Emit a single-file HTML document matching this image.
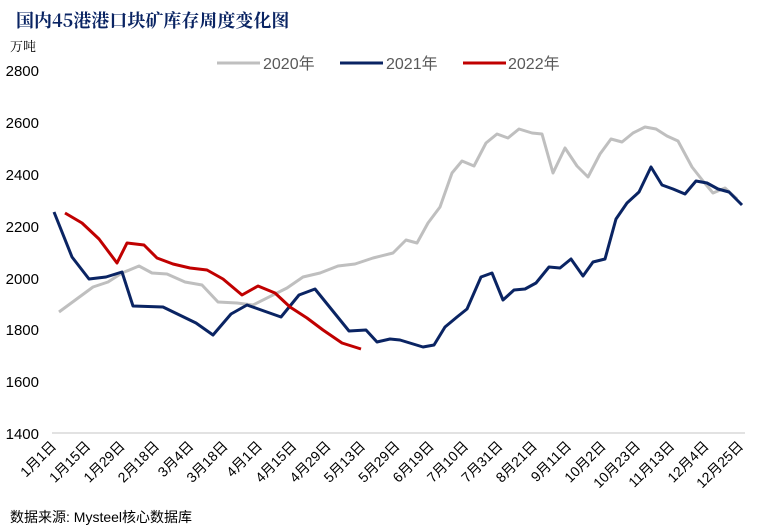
<!DOCTYPE html>
<html><head><meta charset="utf-8"><style>
body{margin:0;background:#fff;}
svg{display:block;font-family:"Liberation Sans","Noto Sans CJK SC",sans-serif;}
</style></head><body>
<svg width="768" height="531" viewBox="0 0 768 531">
<text x="16" y="27" font-size="18" font-weight="bold" fill="#0a2463" font-family="'Noto Serif CJK SC','Liberation Serif',serif">国内45港港口块矿库存周度变化图</text>
<text x="10" y="51" font-size="13" fill="#000" font-family="'Noto Serif CJK SC',serif">万吨</text>
<g font-size="15" fill="#000" text-anchor="end">
<text x="39" y="76">2800</text><text x="39" y="128">2600</text><text x="39" y="180">2400</text>
<text x="39" y="232">2200</text><text x="39" y="284">2000</text><text x="39" y="335">1800</text>
<text x="39" y="387">1600</text><text x="39" y="439">1400</text>
</g>
<line x1="52" y1="433" x2="745" y2="433" stroke="#d9d9d9" stroke-width="1.5"/>
<g font-size="16" fill="#595959">
<line x1="217" y1="63" x2="260" y2="63" stroke="#bfbfbf" stroke-width="3"/><text x="263" y="69">2020年</text>
<line x1="340" y1="63" x2="383" y2="63" stroke="#0a2463" stroke-width="3"/><text x="386" y="69">2021年</text>
<line x1="463" y1="63" x2="506" y2="63" stroke="#c00000" stroke-width="3"/><text x="508" y="69">2022年</text>
</g>
<g fill="none" stroke-width="3" stroke-linejoin="round">
<polyline stroke="#bfbfbf" points="59,312 93,287 108,282 122,273 139,266 152,273 167,274 185,282 202,285 218,302 237,303 253,305 287,288 303,277 320,273 338,266 355,264 373,258 393,253 406,240 417,243 428,223 440,207 452,173 462,161 474,166 486,143 497,134 508,138 519,129 532,133 542,134 553,173 565,148 577,166 588,177 600,154 611,139 622,142 633,133 645,127 656,129 667,136 678,141 692,167 703,181 713,193 725,188 737,199"/>
<polyline stroke="#0a2463" points="54,212 72,257 89,279 106,277 122,272 133,306 163,307 196,323 213,335 231,314 247,305 264,311 281,317 299,295 315,289 349,331 366,330 377,342 390,339 400,340 423,347 434,345 445,327 457,317 467,309 481,277 492,273 503,300 514,290 525,289 536,283 549,267 560,268 571,259 583,276 593,262 605,259 616,219 627,203 639,192 651,167 662,185 673,189 685,194 696,181 707,183 718,189 729,192 742,205"/>
<polyline stroke="#c00000" points="65,213 82,223 99,239 117,263 127,243 144,245 157,258 173,264 190,268 207,270 223,279 242,295 258,286 275,293 290,307 307,318 323,330 342,343 361,349"/>
</g>
<g font-size="14" fill="#000" text-anchor="end">
<text transform="translate(57,447) rotate(-45)">1月1日</text>
<text transform="translate(91.3,447) rotate(-45)">1月15日</text>
<text transform="translate(125.7,447) rotate(-45)">1月29日</text>
<text transform="translate(160,447) rotate(-45)">2月18日</text>
<text transform="translate(194.4,447) rotate(-45)">3月4日</text>
<text transform="translate(228.7,447) rotate(-45)">3月18日</text>
<text transform="translate(263,447) rotate(-45)">4月1日</text>
<text transform="translate(297.4,447) rotate(-45)">4月15日</text>
<text transform="translate(331.7,447) rotate(-45)">4月29日</text>
<text transform="translate(366,447) rotate(-45)">5月13日</text>
<text transform="translate(400.5,447) rotate(-45)">5月29日</text>
<text transform="translate(434.8,447) rotate(-45)">6月19日</text>
<text transform="translate(469.2,447) rotate(-45)">7月10日</text>
<text transform="translate(503.5,447) rotate(-45)">7月31日</text>
<text transform="translate(537.9,447) rotate(-45)">8月21日</text>
<text transform="translate(572.2,447) rotate(-45)">9月11日</text>
<text transform="translate(606.6,447) rotate(-45)">10月2日</text>
<text transform="translate(641,447) rotate(-45)">10月23日</text>
<text transform="translate(675.3,447) rotate(-45)">11月13日</text>
<text transform="translate(709.7,447) rotate(-45)">12月4日</text>
<text transform="translate(744,447) rotate(-45)">12月25日</text>
</g>
<text x="10" y="522" font-size="14" fill="#000">数据来源: Mysteel核心数据库</text>
</svg>
</body></html>
